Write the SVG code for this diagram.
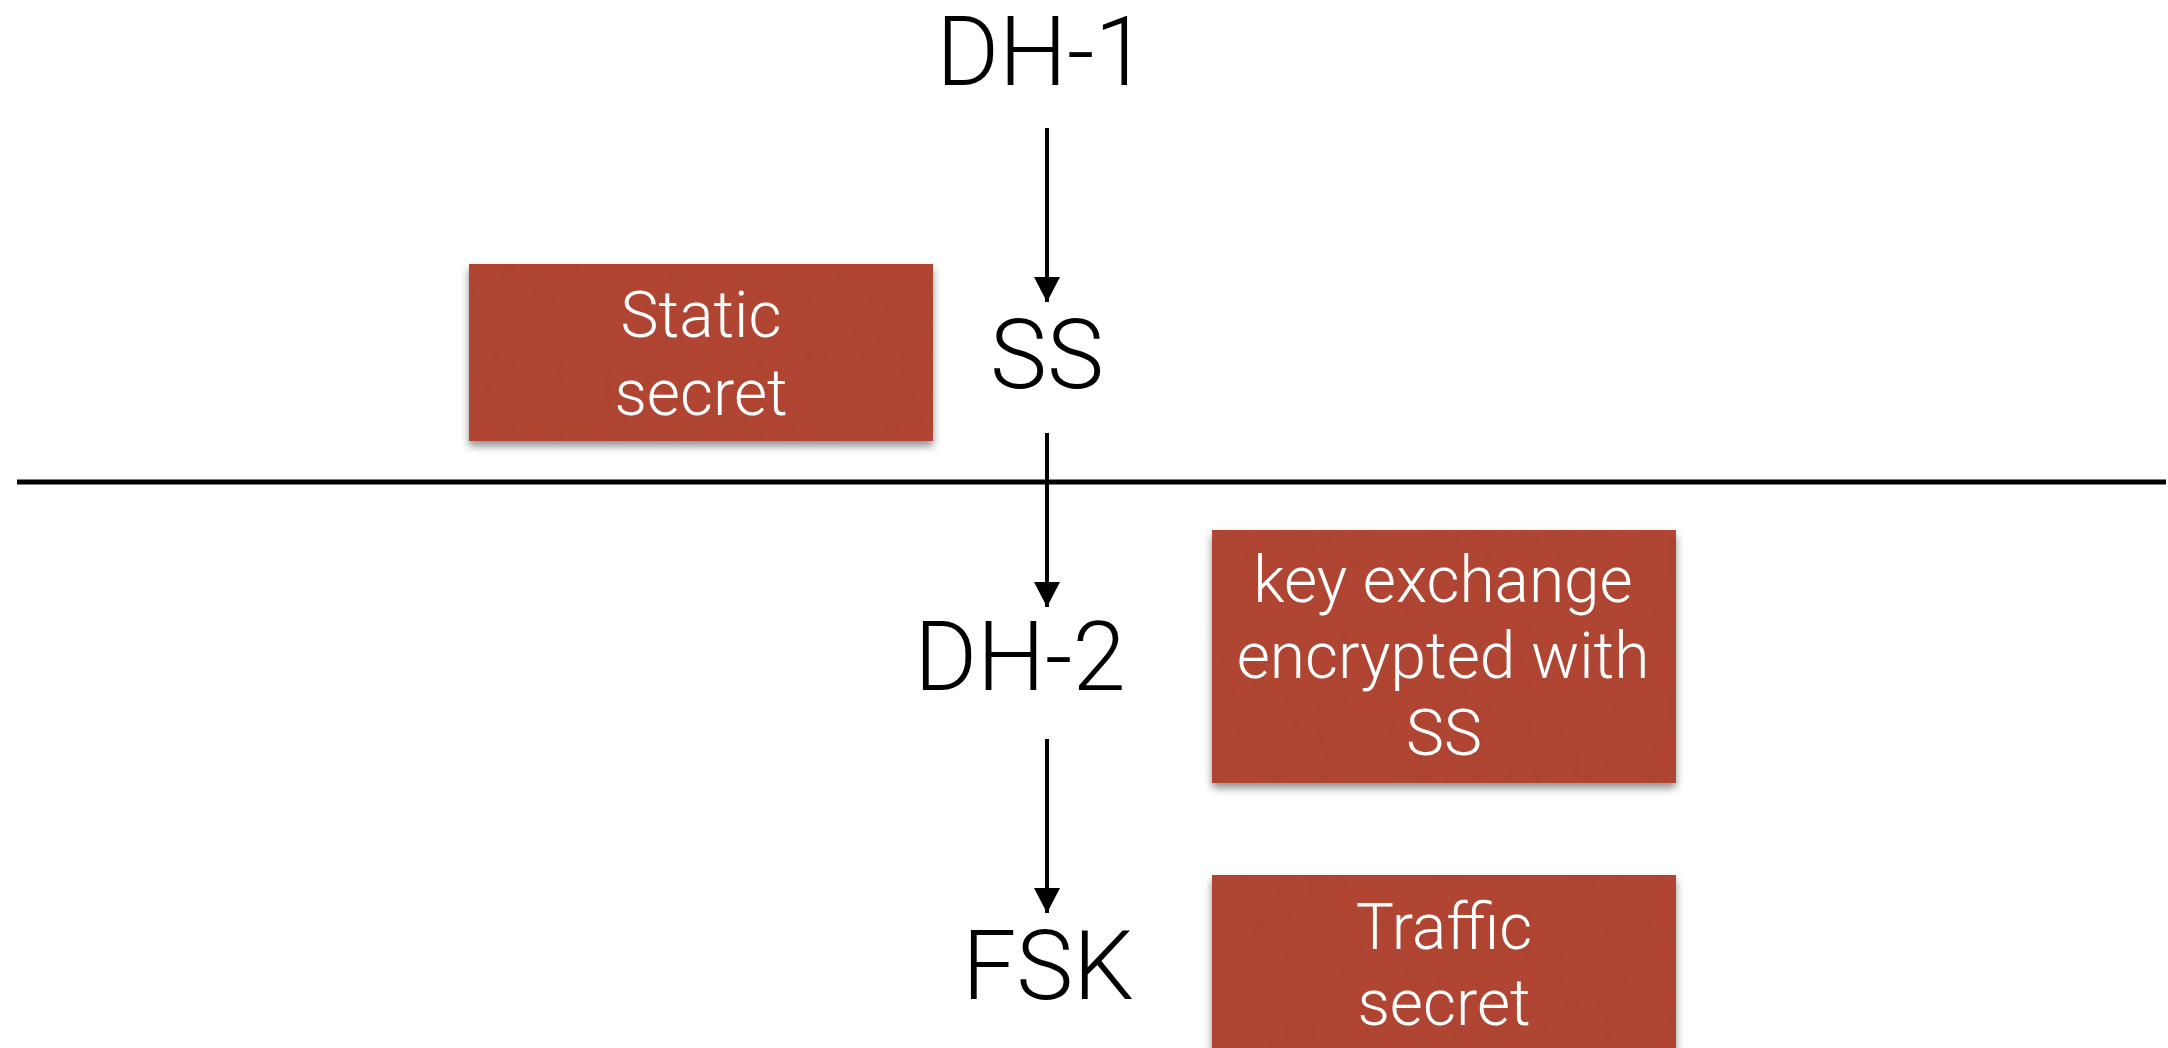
<svg xmlns="http://www.w3.org/2000/svg" width="2168" height="1048" viewBox="0 0 2168 1048">
  <style>
    .big { font-family: Roboto, "Liberation Sans", sans-serif; font-weight: 300; font-size: 96px; fill: #000; text-anchor: middle; }
    .note { font-family: Roboto, "Liberation Sans", sans-serif; font-weight: 300; font-size: 64px; fill: #fff; text-anchor: middle; }
    .card { fill: #b24634; filter: url(#paper); }
    .flow { stroke: #000; stroke-width: 4; fill: none; marker-end: url(#head); }
  </style>
  <defs>
    <marker id="head" viewBox="0 0 25 26" refX="25" refY="13" markerWidth="25" markerHeight="26" markerUnits="userSpaceOnUse" orient="auto">
      <path d="M0,0 L25,13 L0,26 Z" fill="#000"/>
    </marker>
    <!-- paper grain plus a soft shadow under each card -->
    <filter id="paper" x="-5%" y="-10%" width="110%" height="125%">
      <feTurbulence type="fractalNoise" baseFrequency="0.06" numOctaves="3" seed="4" result="noise"/>
      <feColorMatrix in="noise" type="matrix" values="0 0 0 0 0  0 0 0 0 0  0 0 0 0 0  0 0 0 0.08 0" result="grain"/>
      <feComposite in="grain" in2="SourceGraphic" operator="in" result="grainIn"/>
      <feMerge result="card">
        <feMergeNode in="SourceGraphic"/>
        <feMergeNode in="grainIn"/>
      </feMerge>
      <feGaussianBlur in="SourceAlpha" stdDeviation="4" result="blur"/>
      <feOffset in="blur" dy="5" result="off"/>
      <feComponentTransfer in="off" result="shadow">
        <feFuncA type="linear" slope="0.45"/>
      </feComponentTransfer>
      <feMerge>
        <feMergeNode in="shadow"/>
        <feMergeNode in="card"/>
      </feMerge>
    </filter>
  </defs>

  <rect width="2168" height="1048" fill="#fff"/>

  <!-- divider -->
  <g id="divider">
    <line x1="17" y1="482" x2="2166" y2="482" stroke="#000" stroke-width="5"/>
  </g>

  <!-- connectors -->
  <g id="connectors">
    <line class="flow" x1="1047" y1="128" x2="1047" y2="302"/>
    <line class="flow" x1="1047" y1="433" x2="1047" y2="607"/>
    <line class="flow" x1="1047" y1="739" x2="1047" y2="913"/>
  </g>

  <!-- nodes -->
  <g id="dh1"><text class="big" x="1042" y="85">DH-1</text></g>
  <g id="ss"><text class="big" x="1047" y="388">SS</text></g>
  <g id="dh2"><text class="big" x="1020" y="690">DH-2</text></g>
  <g id="fsk"><text class="big" x="1048" y="999">FSK</text></g>

  <!-- annotation cards -->
  <g id="static-secret">
    <rect class="card" x="469" y="264" width="464" height="177"/>
    <text class="note" x="701" y="337">Static</text>
    <text class="note" x="701" y="415">secret</text>
  </g>
  <g id="key-exchange">
    <rect class="card" x="1212" y="530" width="464" height="253"/>
    <text class="note" x="1443" y="602">key exchange</text>
    <text class="note" x="1443" y="678">encrypted with</text>
    <text class="note" x="1444" y="755">SS</text>
  </g>
  <g id="traffic-secret">
    <rect class="card" x="1212" y="875" width="464" height="190"/>
    <text class="note" x="1444" y="949">Traffic</text>
    <text class="note" x="1444" y="1025">secret</text>
  </g>
</svg>
